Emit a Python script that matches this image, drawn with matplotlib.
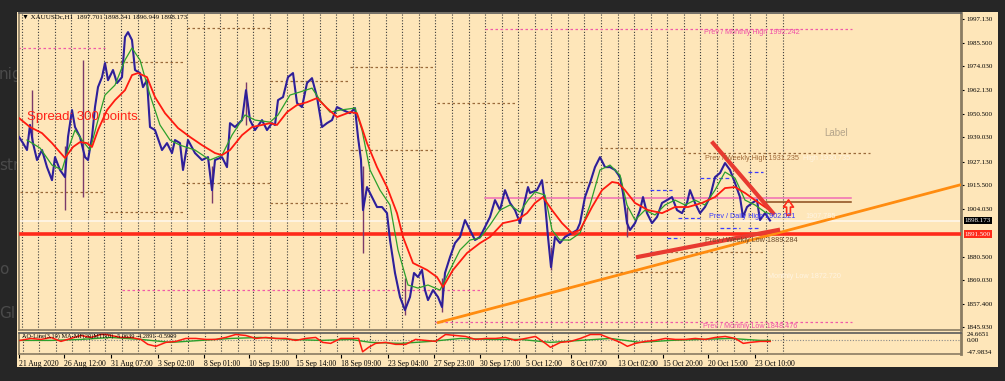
import matplotlib.pyplot as plt
import numpy as np
from matplotlib.patches import Rectangle
from matplotlib.path import Path

plt.rcParams['font.family'] = ['Liberation Serif', 'DejaVu Sans']

W, H = 1005, 381

# price path (t = position on the time axis, hourly chart bars)
t_price = [19, 23, 27, 30, 33, 37, 42, 47, 52, 55, 60, 65, 68, 72, 75, 80, 85, 88, 92, 95,
           98, 102, 105, 108, 113, 117, 122, 125, 128, 132, 135, 140, 143, 147, 150, 155, 162, 167, 172, 175,
           180, 183, 188, 195, 202, 208, 212, 215, 222, 227, 230, 235, 242, 246, 250, 255, 262, 267, 272, 275,
           278, 283, 288, 293, 297, 302, 307, 312, 317, 322, 327, 332, 337, 343, 350, 355, 358, 361, 363, 367,
           372, 377, 382, 387, 390, 395, 400, 405, 410, 414, 418, 422, 425, 428, 433, 438, 442, 445, 450, 455,
           460, 465, 470, 475, 480, 485, 490, 495, 500, 505, 510, 515, 520, 525, 528, 530, 537, 542, 545, 548,
           551, 555, 560, 565, 572, 577, 580, 585, 590, 595, 600, 605, 610, 615, 620, 623, 627, 630, 635, 640,
           643, 647, 652, 657, 662, 667, 672, 677, 682, 687, 690, 695, 700, 705, 710, 715, 720, 725, 730, 735,
           740, 743, 747, 752, 757, 760, 765, 770]
close = [1939.2, 1936.2, 1932.8, 1945.1, 1936.2, 1927.9, 1932.8, 1924.4, 1918.0, 1929.3, 1923.0, 1919.5, 1939.2, 1952.4, 1944.1, 1939.2, 1929.3, 1927.9, 1939.2, 1953.9,
         1963.7, 1968.6, 1975.5, 1967.1, 1972.1, 1965.7, 1968.6, 1988.3, 1990.7, 1986.8, 1972.1, 1970.6, 1963.7, 1967.1, 1944.1, 1942.6, 1932.8, 1936.2, 1931.3, 1937.7,
         1936.2, 1923.0, 1937.7, 1931.3, 1927.9, 1929.3, 1913.1, 1927.9, 1929.3, 1924.4, 1946.0, 1944.1, 1947.5, 1962.2, 1947.5, 1942.6, 1947.5, 1942.6, 1946.0, 1945.1,
         1957.3, 1958.8, 1968.6, 1970.6, 1955.9, 1953.9, 1965.7, 1968.1, 1958.8, 1944.1, 1946.0, 1947.5, 1953.9, 1952.4, 1950.9, 1953.4, 1939.2, 1927.9, 1903.3, 1914.6,
         1909.7, 1904.8, 1904.8, 1901.8, 1888.6, 1872.4, 1860.6, 1854.2, 1860.6, 1872.4, 1870.4, 1873.9, 1864.0, 1859.1, 1864.0, 1860.6, 1855.7, 1872.4, 1880.2, 1887.1,
         1890.1, 1898.4, 1893.5, 1888.6, 1890.1, 1895.0, 1899.9, 1908.2, 1903.3, 1913.1, 1906.8, 1903.3, 1896.9, 1908.2, 1914.6, 1911.7, 1913.1, 1918.0, 1906.8, 1890.1,
         1875.3, 1890.1, 1887.1, 1890.1, 1892.0, 1893.5, 1896.9, 1909.7, 1916.6, 1924.4, 1929.3, 1924.4, 1924.4, 1923.0, 1919.5, 1911.7, 1896.9, 1893.5, 1896.9, 1903.3,
         1909.7, 1901.8, 1896.9, 1899.9, 1906.8, 1908.2, 1909.7, 1903.3, 1901.8, 1906.8, 1913.1, 1906.8, 1901.8, 1904.8, 1909.7, 1919.5, 1921.5, 1926.4, 1923.0, 1916.6,
         1909.7, 1899.9, 1904.8, 1906.8, 1908.2, 1898.4, 1901.8, 1898.2]

# long wicks
wick_t = [32, 65, 83, 212, 246, 363, 405, 442, 551, 627]
wick_hi = [1962.2, 1935.0, 1977.0, 1925.0, 1966.0, 1925.0, 1870.0, 1870.0, 1885.0, 1905.0]
wick_lo = [1936.0, 1903.3, 1909.7, 1907.0, 1945.0, 1882.2, 1851.8, 1853.2, 1873.9, 1890.0]

# slow MA (red)
t_slow = [19, 30, 42, 52, 58, 65, 73, 80, 87, 92, 98, 107, 115, 125, 132, 138, 147, 155, 165, 178,
          190, 202, 215, 222, 230, 242, 252, 262, 270, 277, 287, 297, 307, 317, 327, 337, 350, 357, 367, 377,
          387, 397, 403, 413, 427, 437, 443, 453, 467, 480, 490, 503, 517, 527, 535, 543, 552, 562, 572, 580,
          592, 602, 612, 618, 625, 635, 648, 662, 675, 688, 702, 715, 725, 735, 745, 755, 765, 770]
ma_slow = [1948.5, 1944.1, 1941.1, 1936.2, 1932.8, 1928.9, 1934.3, 1936.7, 1936.2, 1934.3, 1942.6, 1952.4, 1957.3, 1962.2, 1969.6, 1970.6, 1968.6, 1958.8, 1950.9, 1943.6,
           1939.2, 1935.2, 1931.3, 1930.3, 1932.8, 1940.1, 1944.1, 1945.1, 1946.0, 1945.1, 1951.4, 1954.9, 1956.3, 1958.3, 1953.4, 1949.0, 1951.4, 1950.9, 1936.2, 1924.4,
           1914.6, 1901.8, 1890.1, 1877.3, 1873.9, 1870.4, 1865.5, 1873.9, 1882.2, 1887.1, 1890.1, 1896.9, 1898.4, 1901.8, 1906.8, 1909.7, 1903.3, 1896.9, 1892.0, 1893.5,
           1904.8, 1913.1, 1917.1, 1916.6, 1913.1, 1906.8, 1903.3, 1901.8, 1904.8, 1904.8, 1906.8, 1909.7, 1914.1, 1914.6, 1911.7, 1908.2, 1904.8, 1903.3]

# fast MA (green)
t_fast = [27, 40, 52, 62, 68, 75, 82, 90, 98, 105, 115, 125, 132, 140, 150, 160, 170, 180, 195, 210,
          222, 232, 245, 255, 270, 278, 290, 300, 312, 320, 330, 340, 355, 362, 370, 380, 390, 398, 408, 418,
          428, 440, 450, 460, 470, 480, 490, 500, 510, 520, 528, 535, 545, 552, 560, 570, 580, 590, 600, 610,
          620, 627, 635, 645, 655, 665, 675, 685, 695, 705, 715, 725, 735, 745, 755, 765, 770]
ma_fast = [1937.7, 1933.8, 1925.4, 1923.0, 1932.8, 1942.6, 1937.7, 1932.8, 1947.5, 1959.8, 1964.7, 1977.0, 1982.9, 1977.0, 1959.8, 1945.1, 1937.7, 1935.2, 1932.8, 1927.9,
           1930.3, 1940.1, 1950.0, 1947.5, 1946.5, 1950.0, 1959.8, 1961.3, 1963.2, 1957.3, 1951.4, 1952.4, 1953.4, 1942.6, 1923.0, 1913.1, 1905.8, 1883.7, 1866.5, 1865.0,
           1866.5, 1864.0, 1873.9, 1883.7, 1888.6, 1889.6, 1896.0, 1903.3, 1905.8, 1902.3, 1908.2, 1912.2, 1910.7, 1893.5, 1888.6, 1888.6, 1892.0, 1905.8, 1923.0, 1925.4,
           1920.5, 1905.8, 1898.4, 1903.3, 1900.9, 1905.8, 1908.2, 1905.8, 1908.2, 1905.8, 1913.1, 1922.0, 1919.0, 1908.2, 1905.8, 1902.3, 1901.4]

# oscillator panel
t_osc = [19, 30, 40, 50, 60, 70, 80, 90, 100, 105, 110, 120, 130, 140, 147, 155, 165, 175, 185, 195,
         205, 215, 225, 235, 245, 255, 265, 275, 285, 295, 305, 315, 322, 330, 340, 350, 358, 362, 368, 375,
         385, 395, 405, 415, 425, 435, 445, 455, 465, 475, 485, 495, 505, 515, 525, 535, 545, 550, 560, 570,
         580, 590, 600, 610, 620, 627, 635, 645, 655, 665, 675, 685, 695, 705, 715, 725, 735, 743, 750, 760, 770]
osc_main = [0, 8, 4, 12, -4, 8, 20, 12, 24, 24, 20, 12, 12, 4, -16, -24, -8, -4, 8, 8,
            4, 4, 12, 24, 20, 8, 12, 8, 8, 0, 8, 12, -8, -12, 8, 8, 8, -46, -28, -12,
            -8, -16, -16, 4, 0, -4, 24, 20, 16, 4, 8, 8, 12, 0, 8, 16, -12, -28, -8, -4,
            8, 24, 24, 8, -8, -24, -12, -4, 0, 8, 4, 4, 8, 4, 12, 16, 8, -12, -8, -4, -4]
t_sig = [19, 50, 80, 110, 140, 170, 200, 230, 260, 290, 320, 350, 370, 400, 430, 460, 490, 520, 550, 580,
         610, 640, 670, 700, 730, 760, 770]
osc_sig = [0, 0, 4, 12, 4, -8, 0, 8, 12, 4, 0, 4, -8, -12, -4, 8, 4, 4, -8, 0,
           8, -8, 0, 4, 8, 0, 0]

# levels
price_ticks = [1997.130, 1985.500, 1974.030, 1962.130, 1950.500, 1939.030, 1927.130,
               1915.500, 1904.030, 1880.500, 1869.030, 1857.400, 1845.930]
bid = 1898.173
hline_level = 1891.500
monthly_pivots = [(18, 105, 1982.9), (122, 483, 1864.0), (485, 852, 1992.242), (435, 852, 1848.476)]
weekly_pivots = [(20, 103, 1912.2), (105, 185, 1976.0), (105, 185, 1902.3), (187, 270, 1992.7),
                 (182, 270, 1916.6), (270, 350, 1966.7), (270, 350, 1906.8), (350, 433, 1973.6),
                 (350, 433, 1932.8), (437, 515, 1955.9), (515, 600, 1917.1), (600, 683, 1933.8),
                 (600, 683, 1872.9), (683, 870, 1931.235), (650, 763, 1882.7)]
daily_pivots = [(650, 672, 1913.1), (700, 730, 1919.0), (748, 763, 1922.0), (678, 700, 1899.4),
                (720, 740, 1894.5), (667, 680, 1889.6), (650, 657, 1882.7), (748, 760, 1894.5)]
pink_level = (485, 851, 1909.2)
brown_level = (763, 851, 1907.3)
orange_trend = ([437, 961], [1847.9, 1915.8])
red_trend_low = ([638, 778], [1880.3, 1893.5])
red_trend_high = ([713, 773], [1936.2, 1901.8])
arrow_at = (788, 1904.9)

date_t = [18, 63, 110, 157, 203, 248, 295, 340, 387, 433, 479, 526, 571, 618, 663, 708, 755]
date_labels = ['21 Aug 2020', '26 Aug 12:00', '31 Aug 07:00', '3 Sep 02:00', '8 Sep 01:00',
               '10 Sep 19:00', '15 Sep 14:00', '18 Sep 09:00', '23 Sep 04:00', '27 Sep 23:00',
               '30 Sep 17:00', '5 Oct 12:00', '8 Oct 07:00', '13 Oct 02:00', '15 Oct 20:00',
               '20 Oct 15:00', '23 Oct 10:00']

BEIGE = '#fee6b9'
FRAME = '#8a7c62'


def px(x, y):
    return x / W, 1 - y / H


fig = plt.figure(figsize=(W / 100, H / 100), dpi=100, facecolor='#262626')

# bits of the web page behind the terminal window
for s, y in [('nig', 75), ('str', 166), ('o', 270), ('Gl', 313)]:
    fig.text(*px(-1, y), s, color='#4a4a4a', fontsize=11, family='DejaVu Sans', va='center', zorder=-3)

fig.patches.append(Rectangle(px(17, 367), (998 - 17) / W, (367 - 12) / H, transform=fig.transFigure,
                             fc=BEIGE, ec='none', zorder=-1))

ax = fig.add_axes([19 / W, 1 - 330 / H, 942 / W, 317 / H])
ax.set_facecolor(BEIGE)
ax.set_xlim(19, 961)
ax.set_ylim(1844.4, 2000.1)

ind = fig.add_axes([19 / W, 1 - 354 / H, 942 / W, 21 / H])
ind.set_facecolor(BEIGE)
ind.set_xlim(19, 961)
ind.set_ylim(-55, 30)

for a in (ax, ind):
    for g in np.arange(21.7, 784, 16.55):
        a.axvline(g, color='#3c3c3c', lw=0.8, ls=(0, (1, 1.6)), zorder=1)
    for sp in a.spines.values():
        sp.set_color(FRAME)
        sp.set_linewidth(1.2)
    a.spines['right'].set_linewidth(2)
    a.spines['top'].set_color('#5a5a5a')

# pivot levels
for t0, t1, lv in monthly_pivots:
    ax.plot([t0, t1], [lv, lv], color='#f05aa8', lw=0.9, ls=(0, (2, 2)), zorder=2)
for t0, t1, lv in weekly_pivots:
    ax.plot([t0, t1], [lv, lv], color='#9a6a3a', lw=0.9, ls=(0, (2, 2)), zorder=2)
for t0, t1, lv in daily_pivots:
    ax.plot([t0, t1], [lv, lv], color='#3c3cff', lw=0.9, ls=(0, (3, 2)), zorder=2)
ax.plot(pink_level[:2], [pink_level[2]] * 2, color='#f06cb4', lw=1.1, zorder=2)
ax.plot(brown_level[:2], [brown_level[2]] * 2, color='#8b4a1a', lw=1.1, zorder=2)

ax.axhline(bid, color='#fff6ea', lw=1.2, zorder=2)
ax.axhline(hline_level, color='#ff2a1a', lw=2.6, zorder=3)

# price + moving averages
ax.vlines(wick_t, wick_lo, wick_hi, color='#7a3a6a', lw=1.0, zorder=3)
ax.plot(t_price, close, color='#2222b4', lw=1.5, zorder=4)
ax.plot(t_price, close, color='#5a1a4a', lw=0.5, alpha=0.6, zorder=4)
ax.plot(t_fast, ma_fast, color='#2ca02c', lw=0.9, zorder=5)
ax.plot(t_slow, ma_slow, color='#ff1a10', lw=1.3, zorder=5)

# drawn objects
ax.plot(*orange_trend, color='#ff8c10', lw=2, solid_capstyle='butt', zorder=6)
ax.plot(*red_trend_low, color='#e83a30', lw=3, zorder=6)
ax.plot(*red_trend_high, color='#e83a30', lw=3, zorder=6)
arrow = Path([(-0.25, -1), (0.25, -1), (0.25, 0.05), (0.65, 0.05), (0, 1), (-0.65, 0.05), (-0.25, 0.05), (-0.25, -1)],
             [Path.MOVETO] + [Path.LINETO] * 6 + [Path.CLOSEPOLY])
ax.plot([arrow_at[0]], [arrow_at[1]], marker=arrow, ms=11, mfc='none', mec='#ff2a1a', mew=1.2, zorder=7)

# price scale
ax.yaxis.tick_right()
ax.set_yticks(price_ticks)
ax.set_yticklabels([f'{v:.3f}' for v in price_ticks])
ax.tick_params(axis='y', length=2, width=0.8, pad=2, labelsize=5, colors='black')
ax.set_xticks([])
ax.text(1.004, bid, f'{bid:.3f}', transform=ax.get_yaxis_transform(), fontsize=5, color='white',
        va='center', bbox=dict(fc='black', ec='none', pad=0.8), zorder=8, clip_on=False)
ax.text(1.004, hline_level, f'{hline_level:.3f}', transform=ax.get_yaxis_transform(), fontsize=5, color='white',
        va='center', bbox=dict(fc='#ff2a1a', ec='none', pad=0.8), zorder=8, clip_on=False)

# oscillator
ind.axhline(0, color='#8a8a8a', lw=0.8, ls=(0, (1, 1.5)), zorder=2)
ind.plot(t_sig, osc_sig, color='#2ca02c', lw=1.0, zorder=3)
ind.plot(t_osc, osc_main, color='#ff1a10', lw=1.1, zorder=4)
ind.yaxis.tick_right()
ind.set_yticks([24.6651, 0, -47.9834])
ind.set_yticklabels(['24.6651', '0.00', '-47.9834'])
ind.tick_params(axis='y', length=0, pad=4, labelsize=5)
ind.set_xticks(date_t)
ind.set_xticklabels(date_labels)
ind.tick_params(axis='x', length=3, width=0.8, pad=1.5, labelsize=5.5)
for lbl in ind.get_xticklabels():
    lbl.set_ha('left')

# texts
fig.text(*px(22, 17), '\u25bc XAUUSDc,H1  1897.701 1898.341 1896.949 1898.173', fontsize=5,
         va='center', family=['Liberation Serif', 'DejaVu Sans'])
fig.text(*px(22, 336), 'AO-Line(3,10) MA-MF(20)MTF(0) -5.0639 -4.2891 -0.5909', fontsize=4.5, va='center')
fig.text(*px(27, 117), 'Spread: 300 points.', fontsize=9.5, color='#ff2218', family='Liberation Sans', va='center')
fig.text(*px(704, 33), 'Prev / Monthly High 1992.242', fontsize=5.2, color='#f050a8', family='Liberation Sans', va='center')
fig.text(*px(705, 158), 'Prev / Weekly High 1931.235', fontsize=5.2, color='#a06a3a', family='Liberation Sans', va='center')
fig.text(*px(803, 158), 'High 1930.735', fontsize=5.2, color='#fff4e2', family='Liberation Sans', va='center')
fig.text(*px(709, 217), 'Prev / Daily High 1902.021', fontsize=5.2, color='#3a3aff', family='Liberation Sans', va='center')
fig.text(*px(805, 217), '1907.785', fontsize=5.2, color='#fff4e2', family='Liberation Sans', va='center')
fig.text(*px(705, 240), 'Prev / Weekly Low 1889.284', fontsize=5.2, color='#6a4a2a', family='Liberation Sans', va='center')
fig.text(*px(768, 277), 'Monthly Low 1872.720', fontsize=5.2, color='#fff4e2', family='Liberation Sans', va='center')
fig.text(*px(703, 326), 'Prev / Monthly Low 1848.476', fontsize=5.2, color='#f050a8', family='Liberation Sans', va='center')
fig.text(*px(824, 133), 'Label', fontsize=7, color='#b4a48a', family='Liberation Sans', va='center')

fig.savefig('out.png', dpi=100, facecolor=fig.get_facecolor())
